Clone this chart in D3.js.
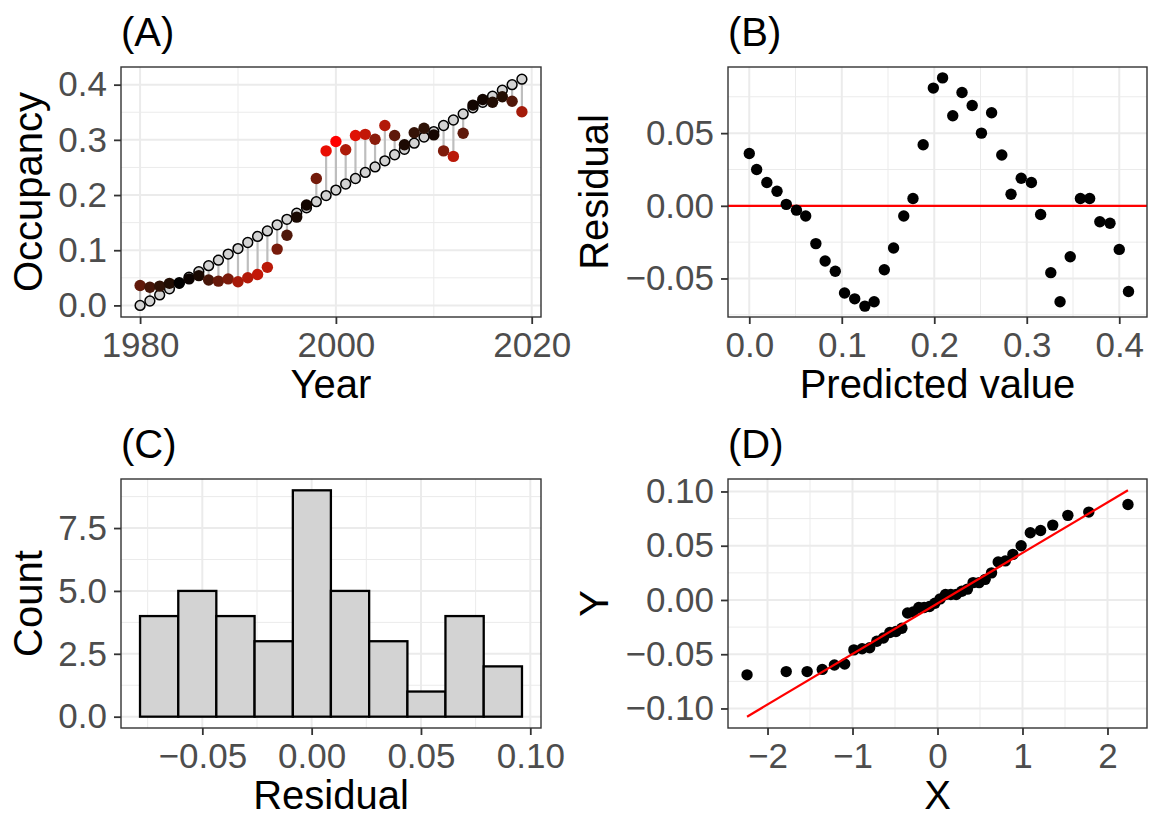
<!DOCTYPE html>
<html>
<head>
<meta charset="utf-8">
<script src="https://cdn.jsdelivr.net/npm/d3@7"></script>
<style>
  body { margin: 0; background: #fff; }
  text { font-family: "Liberation Sans", Arial, sans-serif; }
</style>
</head>
<body>
<script>
// data
const years = [1980, 1981, 1982, 1983, 1984, 1985, 1986, 1987, 1988, 1989,
               1990, 1991, 1992, 1993, 1994, 1995, 1996, 1997, 1998, 1999,
               2000, 2001, 2002, 2003, 2004, 2005, 2006, 2007, 2008, 2009,
               2010, 2011, 2012, 2013, 2014, 2015, 2016, 2017, 2018, 2019]
const fitted = [0.000, 0.008, 0.019, 0.030, 0.040, 0.051, 0.061, 0.072, 0.082, 0.093,
                0.103, 0.114, 0.125, 0.135, 0.146, 0.156, 0.167, 0.177, 0.188, 0.199,
                0.209, 0.220, 0.230, 0.241, 0.251, 0.262, 0.273, 0.283, 0.294, 0.305,
                0.315, 0.326, 0.336, 0.347, 0.358, 0.368, 0.379, 0.390, 0.400, 0.410]
const observed = [0.036, 0.033, 0.035, 0.040, 0.041, 0.048, 0.054, 0.046, 0.044, 0.048,
                  0.043, 0.050, 0.056, 0.069, 0.102, 0.127, 0.160, 0.182, 0.230, 0.280,
                  0.297, 0.282, 0.308, 0.310, 0.301, 0.326, 0.308, 0.291, 0.313, 0.321,
                  0.309, 0.280, 0.270, 0.312, 0.363, 0.373, 0.368, 0.378, 0.370, 0.351]
const residuals = [0.036, 0.025, 0.016, 0.010, 0.001, -0.003, -0.007, -0.026, -0.038, -0.045,
                   -0.060, -0.064, -0.069, -0.066, -0.044, -0.029, -0.007, 0.005, 0.042, 0.081,
                   0.088, 0.062, 0.078, 0.069, 0.050, 0.064, 0.035, 0.008, 0.019, 0.016,
                   -0.006, -0.046, -0.066, -0.035, 0.005, 0.005, -0.011, -0.012, -0.030, -0.059]
const histEdges = [-0.0785, -0.0610, -0.0436, -0.0261, -0.0086, 0.0088, 0.0263, 0.0438, 0.0612, 0.0787, 0.0962]
const histCounts = [4, 5, 4, 3, 9, 5, 3, 1, 4, 2]
const qqTheoretical = [-2.241, -1.780, -1.534, -1.356, -1.213, -1.092, -0.984, -0.887, -0.798, -0.714,
                       -0.636, -0.561, -0.489, -0.419, -0.352, -0.286, -0.220, -0.157, -0.094, -0.031,
                       0.031, 0.094, 0.157, 0.220, 0.286, 0.352, 0.419, 0.489, 0.561, 0.636,
                       0.714, 0.798, 0.887, 0.984, 1.092, 1.213, 1.356, 1.534, 1.780, 2.241]
const qqLineX = [-2.241, 2.241]
const qqLineY = [-0.1076, 0.1011]

const W = 1150, H = 816
const tickFont = 35, titleFont = 40

const svg = d3.select("body").append("svg").attr("width", W).attr("height", H)

// sets up one ggplot-like panel (theme_bw), returns the scales
function panel(p) {
  const x = d3.scaleLinear().domain(p.xDomain).range([p.left, p.right])
  const y = d3.scaleLinear().domain(p.yDomain).range([p.bottom, p.top])
  const g = svg.append("g")
  const inX = v => v >= p.xDomain[0] && v <= p.xDomain[1]
  const inY = v => v >= p.yDomain[0] && v <= p.yDomain[1]

  g.selectAll(".gxm").data(p.xMinor.filter(inX)).join("line")
    .attr("x1", d => x(d)).attr("x2", d => x(d)).attr("y1", p.top).attr("y2", p.bottom)
    .attr("stroke", "#ebebeb").attr("stroke-width", 1)
  g.selectAll(".gym").data(p.yMinor.filter(inY)).join("line")
    .attr("y1", d => y(d)).attr("y2", d => y(d)).attr("x1", p.left).attr("x2", p.right)
    .attr("stroke", "#ebebeb").attr("stroke-width", 1)
  g.selectAll(".gx").data(p.xMajor).join("line")
    .attr("x1", d => x(d)).attr("x2", d => x(d)).attr("y1", p.top).attr("y2", p.bottom)
    .attr("stroke", "#ebebeb").attr("stroke-width", 2)
  g.selectAll(".gy").data(p.yMajor).join("line")
    .attr("y1", d => y(d)).attr("y2", d => y(d)).attr("x1", p.left).attr("x2", p.right)
    .attr("stroke", "#ebebeb").attr("stroke-width", 2)

  const marks = svg.append("g")

  // axes
  const ax = svg.append("g").attr("transform", `translate(0,${p.bottom})`)
    .call(d3.axisBottom(x).tickValues(p.xMajor).tickFormat(p.xFmt).tickSizeInner(7).tickSizeOuter(0).tickPadding(8))
  const ay = svg.append("g").attr("transform", `translate(${p.left},0)`)
    .call(d3.axisLeft(y).tickValues(p.yMajor).tickFormat(p.yFmt).tickSizeInner(7).tickSizeOuter(0).tickPadding(7))
  for (const a of [ax, ay]) {
    a.select(".domain").remove()
    a.selectAll(".tick line").attr("stroke", "#333333").attr("stroke-width", 1.8)
    a.selectAll(".tick text").attr("fill", "#4d4d4d").attr("font-size", tickFont)
      .attr("font-family", "Liberation Sans, Arial, sans-serif")
  }

  // titles
  svg.append("text").attr("x", (p.left + p.right) / 2).attr("y", p.bottom + 81)
    .attr("text-anchor", "middle").attr("font-size", titleFont).text(p.xTitle)
  svg.append("text").attr("transform", `translate(${p.yTitleX},${(p.top + p.bottom) / 2}) rotate(-90)`)
    .attr("text-anchor", "middle").attr("font-size", titleFont).text(p.yTitle)
  svg.append("text").attr("x", p.left).attr("y", p.top - 21.5)
    .attr("font-size", titleFont).text(p.tag)

  return { x, y, marks, border: () => svg.append("rect")
    .attr("x", p.left).attr("y", p.top).attr("width", p.right - p.left).attr("height", p.bottom - p.top)
    .attr("fill", "none").attr("stroke", "#333333").attr("stroke-width", 1.4) }
}

const fmt1 = d3.format(".1f"), fmt2 = d3.format(".2f")

// (A) observed vs fitted occupancy
const A = panel({
  left: 121, right: 541, top: 67, bottom: 317,
  xDomain: [1978.05, 2020.95], yDomain: [-0.021, 0.432],
  xMajor: [1980, 2000, 2020], xMinor: [1970, 1990, 2010, 2030],
  yMajor: [0, 0.1, 0.2, 0.3, 0.4], yMinor: [0.05, 0.15, 0.25, 0.35],
  xFmt: d3.format("d"), yFmt: fmt1,
  xTitle: "Year", yTitle: "Occupancy", yTitleX: 42, tag: "(A)"
})
const absMax = d3.max(residuals, d => Math.abs(d))
const absMin = d3.min(residuals, d => Math.abs(d))
const colA = d3.scaleLinear().domain([absMin, absMax]).range(["black", "red"]).interpolate(d3.interpolateLab)
A.marks.selectAll(".seg").data(years).join("line")
  .attr("x1", d => A.x(d)).attr("x2", d => A.x(d))
  .attr("y1", (d, i) => A.y(fitted[i])).attr("y2", (d, i) => A.y(observed[i]))
  .attr("stroke", "#bebebe").attr("stroke-width", 2.2)
A.marks.selectAll(".fit").data(years).join("circle")
  .attr("cx", d => A.x(d)).attr("cy", (d, i) => A.y(fitted[i])).attr("r", 4.9)
  .attr("fill", "#d3d3d3").attr("stroke", "black").attr("stroke-width", 1.5)
A.marks.selectAll(".obs").data(years).join("circle")
  .attr("cx", d => A.x(d)).attr("cy", (d, i) => A.y(observed[i])).attr("r", 5.7)
  .attr("fill", (d, i) => colA(Math.abs(residuals[i])))
A.border()

// (B) residual vs predicted
const B = panel({
  left: 728, right: 1147, top: 67, bottom: 317,
  xDomain: [-0.023, 0.43], yDomain: [-0.0765, 0.0955],
  xMajor: [0, 0.1, 0.2, 0.3, 0.4], xMinor: [-0.05, 0.05, 0.15, 0.25, 0.35, 0.45],
  yMajor: [-0.05, 0, 0.05], yMinor: [-0.075, -0.025, 0.025, 0.075],
  xFmt: fmt1, yFmt: fmt2,
  xTitle: "Predicted value", yTitle: "Residual", yTitleX: 608, tag: "(B)"
})
B.marks.append("line")
  .attr("x1", 728).attr("x2", 1147).attr("y1", B.y(0)).attr("y2", B.y(0))
  .attr("stroke", "red").attr("stroke-width", 2.2)
B.marks.selectAll(".pt").data(fitted).join("circle")
  .attr("cx", d => B.x(d)).attr("cy", (d, i) => B.y(residuals[i])).attr("r", 5.7)
  .attr("fill", "black")
B.border()

// (C) histogram of residuals
const C = panel({
  left: 121, right: 541, top: 479, bottom: 728,
  xDomain: [-0.0872, 0.1049], yDomain: [-0.45, 9.45],
  xMajor: [-0.05, 0, 0.05, 0.1], xMinor: [-0.075, -0.025, 0.025, 0.075, 0.125],
  yMajor: [0, 2.5, 5, 7.5], yMinor: [-1.25, 1.25, 3.75, 6.25, 8.75],
  xFmt: fmt2, yFmt: fmt1,
  xTitle: "Residual", yTitle: "Count", yTitleX: 42, tag: "(C)"
})
C.marks.selectAll(".bar").data(histCounts).join("rect")
  .attr("x", (d, i) => C.x(histEdges[i]))
  .attr("width", (d, i) => C.x(histEdges[i + 1]) - C.x(histEdges[i]))
  .attr("y", d => C.y(d)).attr("height", d => C.y(0) - C.y(d))
  .attr("fill", "#d3d3d3").attr("stroke", "black").attr("stroke-width", 2.3)
C.border()

// (D) normal Q-Q plot of residuals
const D = panel({
  left: 728, right: 1147, top: 479, bottom: 728,
  xDomain: [-2.465, 2.465], yDomain: [-0.118, 0.1115],
  xMajor: [-2, -1, 0, 1, 2], xMinor: [-2.5, -1.5, -0.5, 0.5, 1.5, 2.5],
  yMajor: [-0.1, -0.05, 0, 0.05, 0.1], yMinor: [-0.075, -0.025, 0.025, 0.075],
  xFmt: d3.format("d"), yFmt: fmt2,
  xTitle: "X", yTitle: "Y", yTitleX: 608, tag: "(D)"
})
const sortedRes = d3.sort(residuals)
D.marks.selectAll(".pt").data(qqTheoretical).join("circle")
  .attr("cx", d => D.x(d)).attr("cy", (d, i) => D.y(sortedRes[i])).attr("r", 5.7)
  .attr("fill", "black")
D.marks.append("line")
  .attr("x1", D.x(qqLineX[0])).attr("x2", D.x(qqLineX[1]))
  .attr("y1", D.y(qqLineY[0])).attr("y2", D.y(qqLineY[1]))
  .attr("stroke", "red").attr("stroke-width", 2.2)
D.border()
</script>
</body>
</html>
